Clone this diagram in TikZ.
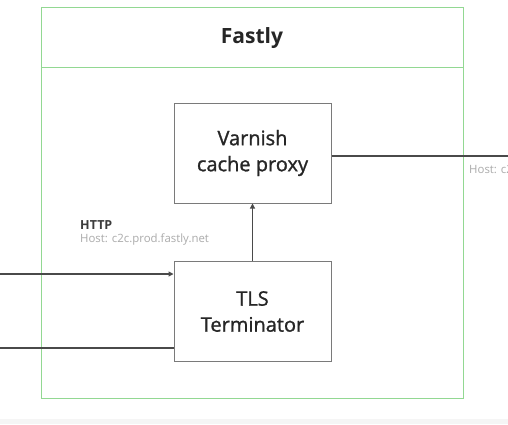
\documentclass[tikz,border=0pt]{standalone}
\usepackage{fontspec}
\setmainfont{Open Sans}
\newfontfamily\semib[FakeBold=1.2]{Open Sans}
\usetikzlibrary{arrows.meta}
\definecolor{grn}{HTML}{92D892}
\definecolor{boxc}{HTML}{7A7A7A}
\definecolor{linec}{HTML}{4A4A4A}
\definecolor{txt}{HTML}{262626}
\definecolor{lbl}{HTML}{ABABAB}
\tikzset{
  compbox/.style={draw=boxc, line width=1pt, minimum width=157pt, minimum height=100pt, align=center, font=\semib\fontsize{20}{26}\selectfont, text=txt, inner sep=0pt},
  conn/.style={draw=linec, line width=1.1pt},
  arr/.style={conn, -{Triangle[length=5pt,width=5pt]}},
  small/.style={font=\fontsize{11.4}{13}\selectfont, text=lbl, anchor=west, inner sep=0pt},
}
\begin{document}
\begin{tikzpicture}[x=1pt,y=-1pt]
\useasboundingbox (0,0) rectangle (508,424);
\clip (0,0) rectangle (508,424);
\fill[white] (0,0) rectangle (508,424);
\fill[black!4] (0,419) rectangle (508,424);
% Fastly container
\draw[grn, line width=0.9pt] (41,7.5) rectangle (463,398);
\draw[grn, line width=0.9pt] (41,67) -- (463,67);
\node[font=\fontsize{21}{24}\selectfont\bfseries, text=txt] (fastly) at (252,38) {Fastly};
% boxes
\node[compbox] (varnish) at (252.5,153) {Varnish\\cache proxy};
\node[compbox] (tls) at (252.5,311.5) {TLS\\Terminator};
% connectors
\draw[arr] (tls.north) -- (varnish.south);
\coordinate (outR) at (512,156);
\draw[conn] (varnish.east |- outR) -- (outR);
\coordinate (inA) at (-4,274);
\coordinate (inB) at (-4,348);
\draw[arr] (inA) -- (tls.west |- inA);
\draw[conn] (inB) -- (tls.west |- inB);
% labels
\node[font=\fontsize{12.5}{14}\selectfont\bfseries, text=txt!90, anchor=west, inner sep=0pt] (http) at (80,225) {HTTP};
\node[small] (host1) at (80,240) {Host: c2c.prod.fastly.net};
\node[small] (host2) at (469,171) {Host: c2c.prod.fastly.net};
\end{tikzpicture}
\end{document}
